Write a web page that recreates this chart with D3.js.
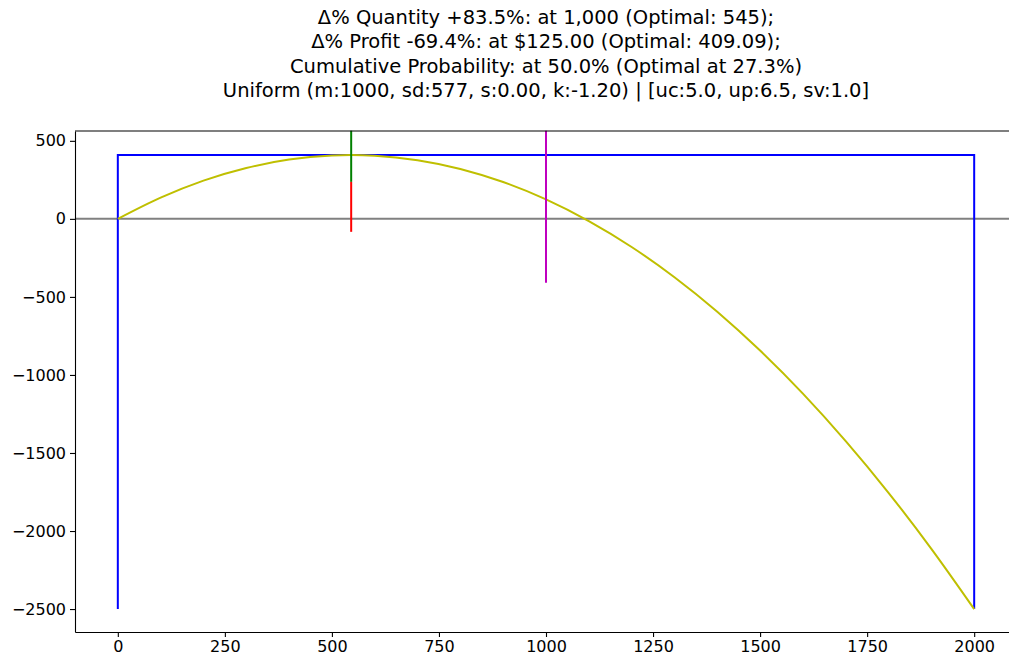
<!DOCTYPE html>
<html>
<head>
<meta charset="utf-8">
<script src="https://cdn.jsdelivr.net/npm/d3@7"></script>
<style>
  body { margin: 0; background: #fff; }
  text { font-family: "DejaVu Sans", sans-serif; fill: #000; }
</style>
</head>
<body>
<div id="chart"></div>
<script>
// title lines
var titleLines = [
    "Δ% Quantity +83.5%: at 1,000 (Optimal: 545);",
    "Δ% Profit -69.4%: at $125.00 (Optimal: 409.09);",
    "Cumulative Probability: at 50.0% (Optimal at 27.3%)",
    "Uniform (m:1000, sd:577, s:0.00, k:-1.20) | [uc:5.0, up:6.5, sv:1.0]"
];

// expected profit vs order quantity
var quantity = [0, 100, 200, 300, 400, 500, 545, 600, 700, 800, 900, 1000,
                1100, 1200, 1300, 1400, 1500, 1600, 1700, 1800, 1900, 2000];
var profit = [0, 136, 245, 326, 380, 406, 409, 405, 376, 320, 236, 125,
              -14, -180, -374, -595, -844, -1120, -1424, -1755, -2114, -2500];

// scaled demand density (uniform box)
var pdfX = [0, 0, 2000, 2000];
var pdfY = [-2500, 409, 409, -2500];

// vertical markers: [x, yFrom, yTo, colour]
var markerX = [545, 545, 1000];
var markerFrom = [237, -83, -409];
var markerTo = [565, 237, 565];
var markerColor = ["#008000", "#ff0000", "#bf00bf"];

var xTicks = [0, 250, 500, 750, 1000, 1250, 1500, 1750, 2000];
var yTicks = [500, 0, -500, -1000, -1500, -2000, -2500];

var W = 1009, H = 661;
var svg = d3.select("#chart").append("svg")
    .attr("width", W).attr("height", H);

var x = d3.scaleLinear().domain([-100, 2100]).range([75, 1017]);
var y = d3.scaleLinear().domain([-2647, 563]).range([632, 131]);

// title
svg.append("g").selectAll("text")
    .data(titleLines)
    .enter()
    .append("text")
    .attr("x", 546)
    .attr("y", function(d, i) { return 24 + i * 24.3; })
    .attr("text-anchor", "middle")
    .style("font-size", "19.5px")
    .text(function(d) { return d; });

var plot = svg.append("g");

// zero line
plot.append("line")
    .attr("x1", x(-100)).attr("x2", x(2100))
    .attr("y1", y(0)).attr("y2", y(0))
    .style("stroke", "#808080").style("stroke-width", 2);

// pdf box
var pdfLine = d3.line()
    .x(function(d) { return x(d[0]); })
    .y(function(d) { return y(d[1]); });
plot.append("path")
    .attr("d", pdfLine(d3.zip(pdfX, pdfY)))
    .style("fill", "none").style("stroke", "#0000ff").style("stroke-width", 2);

// profit curve
var profitLine = d3.line()
    .x(function(d) { return x(d[0]); })
    .y(function(d) { return y(d[1]); })
    .curve(d3.curveMonotoneX);
plot.append("path")
    .attr("d", profitLine(d3.zip(quantity, profit)))
    .style("fill", "none").style("stroke", "#bfbf00").style("stroke-width", 2);

// markers
for (var i = 0; i < markerX.length; i++) {
    plot.append("line")
        .attr("x1", x(markerX[i])).attr("x2", x(markerX[i]))
        .attr("y1", y(markerFrom[i])).attr("y2", y(markerTo[i]))
        .style("stroke", markerColor[i]).style("stroke-width", 2);
}

// axes
var xAxis = svg.append("g")
    .attr("transform", "translate(0," + 632 + ")")
    .call(d3.axisBottom(x).tickValues(xTicks).tickSize(5).tickSizeOuter(0).tickPadding(4)
        .tickFormat(d3.format("d")));
var yAxis = svg.append("g")
    .attr("transform", "translate(" + 75 + ",0)")
    .call(d3.axisLeft(y).tickValues(yTicks).tickSize(5).tickSizeOuter(0).tickPadding(4)
        .tickFormat(function(d) { return d < 0 ? "\u2212" + Math.abs(d) : d; }));
[xAxis, yAxis].forEach(function(a) {
    a.selectAll("text").style("font-size", "16px").style("font-family", "DejaVu Sans");
    a.selectAll("line").style("stroke", "#000").style("stroke-width", 1.1);
    a.select(".domain").style("stroke", "#000").style("stroke-width", 1.1);
});

// top spine
svg.append("line")
    .attr("x1", 75).attr("x2", 1017)
    .attr("y1", 131).attr("y2", 131)
    .style("stroke", "#000").style("stroke-width", 1.1);
</script>
</body>
</html>
